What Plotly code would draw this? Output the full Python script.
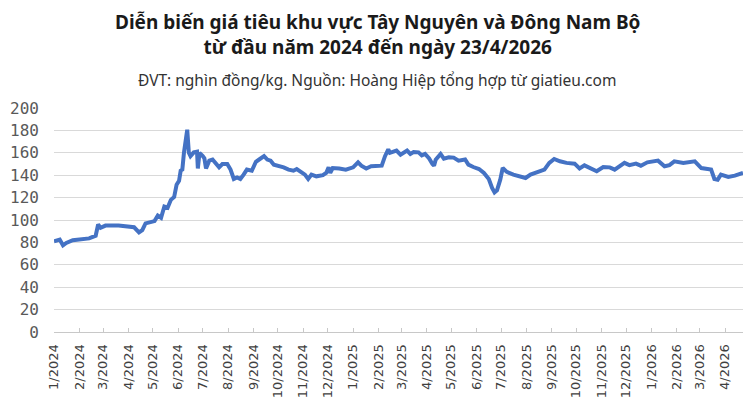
import plotly.graph_objects as go

# Giá tiêu (nghìn đồng/kg)
dates = [
    "2024-01-01", "2024-01-08", "2024-01-12", "2024-01-16", "2024-01-24",
    "2024-02-01", "2024-02-13", "2024-02-21", "2024-02-24", "2024-02-27",
    "2024-03-04", "2024-03-20", "2024-04-02", "2024-04-08", "2024-04-14",
    "2024-04-18", "2024-04-22", "2024-04-28", "2024-05-03", "2024-05-07",
    "2024-05-11", "2024-05-15", "2024-05-19", "2024-05-23", "2024-05-27",
    "2024-05-30", "2024-06-02", "2024-06-04", "2024-06-06", "2024-06-08",
    "2024-06-10", "2024-06-12", "2024-06-14", "2024-06-16", "2024-06-20",
    "2024-06-24", "2024-06-25", "2024-06-27", "2024-07-01", "2024-07-03",
    "2024-07-05", "2024-07-09", "2024-07-13", "2024-07-17", "2024-07-21",
    "2024-07-25", "2024-07-31", "2024-08-04", "2024-08-08", "2024-08-12",
    "2024-08-16", "2024-08-20", "2024-08-24", "2024-08-30", "2024-09-04",
    "2024-09-08", "2024-09-14", "2024-09-18", "2024-09-22", "2024-09-26",
    "2024-10-02", "2024-10-08", "2024-10-14", "2024-10-20", "2024-10-24",
    "2024-10-28", "2024-11-03", "2024-11-07", "2024-11-11", "2024-11-17",
    "2024-11-25", "2024-11-29", "2024-12-02", "2024-12-04", "2024-12-07",
    "2024-12-15", "2024-12-23", "2025-01-01", "2025-01-07", "2025-01-11",
    "2025-01-17", "2025-01-23", "2025-02-01", "2025-02-05", "2025-02-09",
    "2025-02-13", "2025-02-15", "2025-02-19", "2025-02-23", "2025-02-28",
    "2025-03-04", "2025-03-08", "2025-03-12", "2025-03-16", "2025-03-22",
    "2025-03-26", "2025-03-30", "2025-04-04", "2025-04-08", "2025-04-10",
    "2025-04-12", "2025-04-18", "2025-04-22", "2025-04-28", "2025-05-04",
    "2025-05-10", "2025-05-18", "2025-05-22", "2025-05-28", "2025-06-04",
    "2025-06-10", "2025-06-16", "2025-06-20", "2025-06-23", "2025-06-26",
    "2025-06-30", "2025-07-03", "2025-07-08", "2025-07-16", "2025-07-25",
    "2025-07-31", "2025-08-06", "2025-08-14", "2025-08-23", "2025-08-29",
    "2025-09-04", "2025-09-11", "2025-09-19", "2025-09-29", "2025-10-05",
    "2025-10-11", "2025-10-19", "2025-10-26", "2025-11-03", "2025-11-11",
    "2025-11-17", "2025-11-29", "2025-12-05", "2025-12-13", "2025-12-19",
    "2025-12-27", "2026-01-09", "2026-01-17", "2026-01-23", "2026-01-29",
    "2026-02-09", "2026-02-23", "2026-03-03", "2026-03-11", "2026-03-15",
    "2026-03-19", "2026-03-23", "2026-03-27", "2026-04-05", "2026-04-13",
    "2026-04-23",
]
prices = [
    81, 82.5, 77.4, 79.5, 82,
    83, 83.6, 86, 96, 93,
    95, 95, 94, 93.5, 89,
    91, 97, 98, 99, 104,
    102, 112, 111, 118, 120.5,
    131.5, 135, 144, 145, 160,
    168.8, 180.6, 160, 157, 160.4,
    161, 146, 160, 157, 155,
    146, 153, 154, 151, 147,
    150, 150, 145, 136.6, 138,
    136.6, 140.5, 145, 144, 152,
    154, 157, 154, 153, 149.4,
    148.5, 147, 145, 144, 145.5,
    143.5, 140.5, 136.6, 140.5, 139,
    140, 142, 147, 142, 146.4,
    146, 145, 147, 151.5, 148.5,
    146, 148, 148.5, 148.5, 157,
    163, 160, 161, 162, 158.3,
    160.4, 162, 159, 160.7, 160.4,
    157.7, 159, 155, 150, 148.5,
    153.9, 159, 154.8, 156, 155.7,
    153, 154, 149.4, 147.3, 145.5,
    142, 136.6, 128.6, 124.7, 126.5,
    136, 146.4, 143, 140.5, 138.4,
    137.5, 140.5, 142.6, 145, 151,
    154.5, 152.4, 151, 150.3, 146,
    148.8, 146, 143.5, 147.3, 147,
    145, 151, 149, 150.3, 148.5,
    151.5, 153, 148, 149, 152.4,
    151, 152.4, 146.4, 146, 145,
    136.6, 136, 140.5, 138.4, 139.6,
    142,
]

# month ticks: 1/2024 ... 4/2026
month_ticks = [f"{y}-{m:02d}-01" for y in (2024, 2025, 2026) for m in range(1, 13)][:28]
month_labels = [f"{m}/{y}" for y in (2024, 2025, 2026) for m in range(1, 13)][:28]

title = ("<b>Diễn biến giá tiêu khu vực Tây Nguyên và Đông Nam Bộ</b><br>"
         "<b>từ đầu năm 2024 đến ngày 23/4/2026</b>")
subtitle = "ĐVT: nghìn đồng/kg. Nguồn: Hoàng Hiệp tổng hợp từ giatieu.com"

# the page body adds an 8px margin, so the figure sits at (8, 8)
OFF = 8
W, H = 754 - 2 * OFF, 411 - 2 * OFF
M_L, M_T = 54 - OFF, 108 - OFF
M_R = W - (743 - OFF)
M_B = H - (332 - OFF)
plot_w = W - M_L - M_R
plot_h = H - M_T - M_B


def px(x):
    return (x - OFF - M_L) / plot_w


def py(y):
    return 1 + (M_T - (y - OFF)) / plot_h


fig = go.Figure()
fig.add_trace(go.Scatter(
    x=dates,
    y=prices,
    mode="lines",
    line=dict(color="#4472C4", width=4),
    hoverinfo="x+y",
))

fig.update_layout(
    width=W,
    height=H,
    margin=dict(l=M_L, r=M_R, t=M_T, b=M_B, autoexpand=False),
    paper_bgcolor="white",
    plot_bgcolor="white",
    showlegend=False,
    font=dict(family="Noto Sans", color="#404040"),
    annotations=[
        dict(text=title, x=px(377), y=py(35), xref="paper", yref="paper",
             showarrow=False, font=dict(size=19, color="#1a1a1a"),
             xanchor="center", yanchor="middle"),
        dict(text=subtitle, x=px(377), y=py(80), xref="paper", yref="paper",
             showarrow=False, font=dict(size=15.5, color="#333333"),
             xanchor="center", yanchor="middle"),
    ],
)

fig.update_xaxes(
    type="date",
    range=["2024-01-01", "2026-04-23"],
    tickmode="array",
    tickvals=month_ticks,
    ticktext=month_labels,
    tickangle=-90,
    ticks="inside",
    ticklen=4,
    tickcolor="#c8c8c8",
    showline=True,
    linecolor="#c8c8c8",
    linewidth=1,
    showgrid=False,
    automargin=False,
    ticklabelstandoff=6,
    tickfont=dict(size=13, color="#404040", family="DejaVu Sans"),
)
fig.update_yaxes(
    range=[0, 200],
    dtick=20,
    showgrid=True,
    gridcolor="#d9d9d9",
    gridwidth=1,
    zeroline=False,
    showline=False,
    ticks="",
    automargin=False,
    ticklabelstandoff=14,
    tickfont=dict(size=16, color="#595959", family="DejaVu Sans Mono"),
)

fig.write_html("out.html")
